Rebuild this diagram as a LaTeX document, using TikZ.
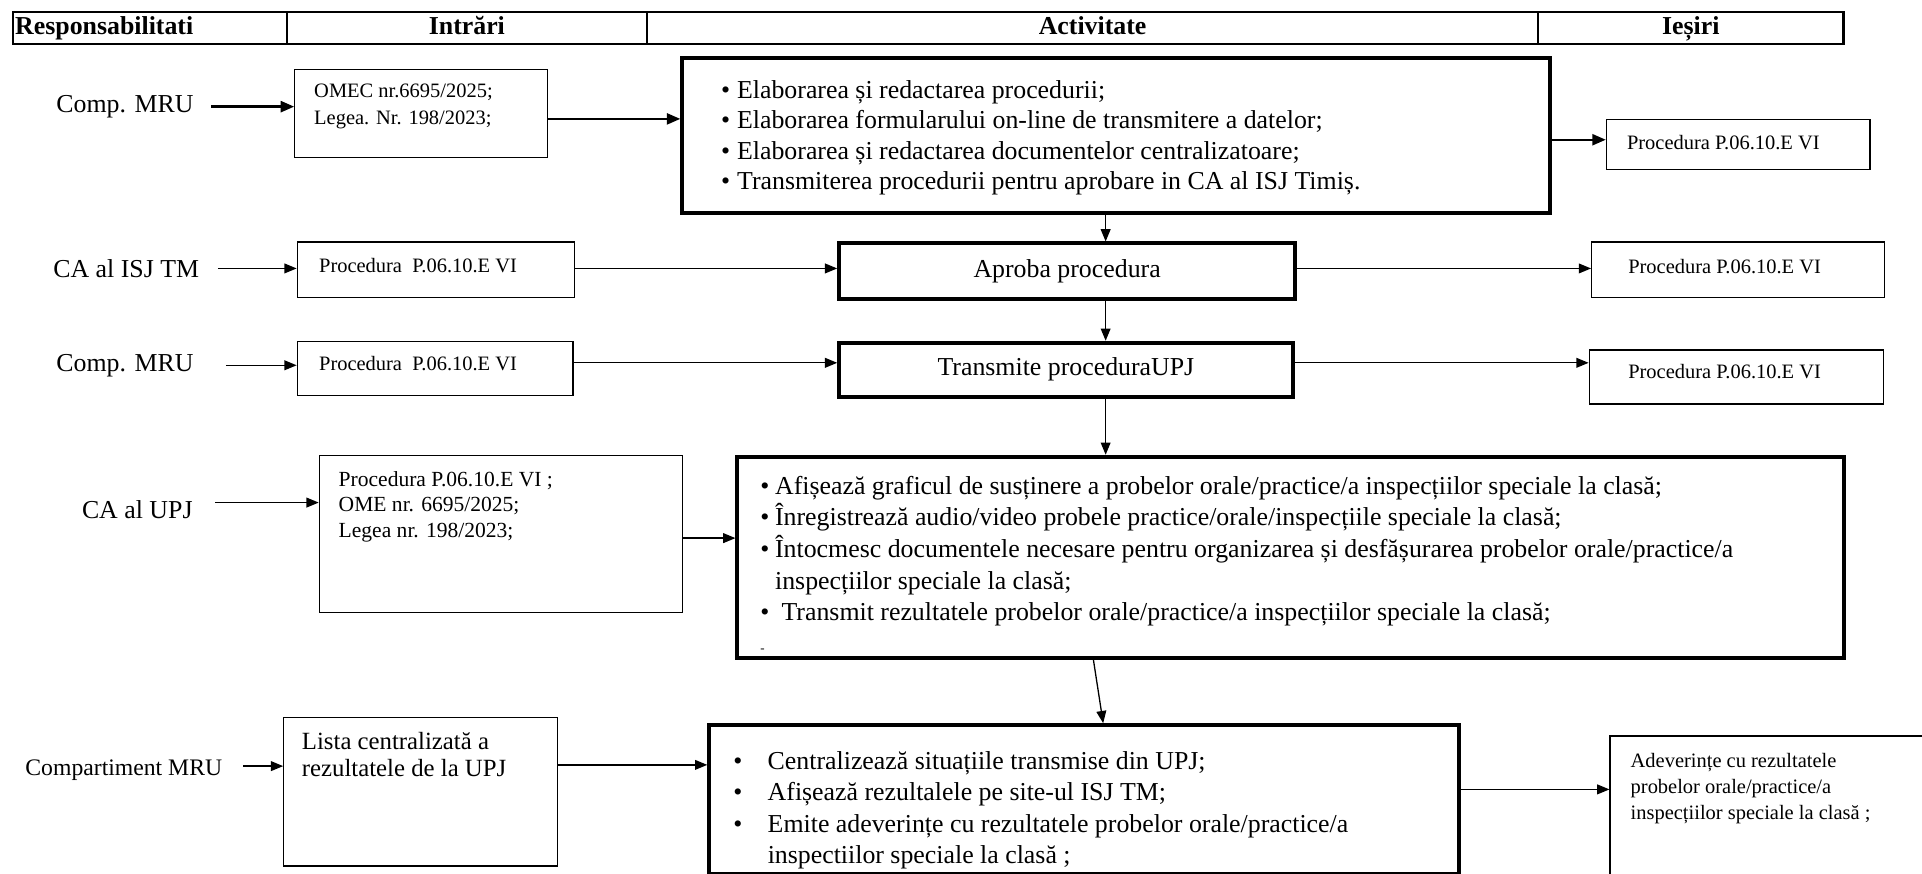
\documentclass[tikz,border=0pt]{standalone}
\usepackage{fontspec}
\setmainfont{Liberation Serif}
\usetikzlibrary{arrows.meta}
\begin{document}
\begin{tikzpicture}[x=0.02cm,y=-0.02cm,
  sz/.style 2 args={minimum width=#1*0.02cm, minimum height=#2*0.02cm},
  bx/.style={draw, line width=0.6pt, inner sep=0pt, anchor=north west},
  tbx/.style={draw, line width=1.8pt, inner sep=0pt, anchor=north west},
  hd/.style={draw, line width=1pt, inner sep=0pt, anchor=north west, text height=9pt, text depth=3pt, font=\bfseries\fontsize{12}{14}\selectfont},
  arr/.style={-{Triangle[length=0.2cm,width=0.16cm]}, line width=0.6pt},
  arrb/.style={-{Triangle[length=0.22cm,width=0.18cm]}, line width=1.1pt},
  lbl/.style={inner sep=0pt, font=\fontsize{12}{14}\selectfont},
  txt/.style={anchor=north west, inner sep=0pt, align=left},
  big/.style={font=\fontsize{12}{14.2}\selectfont},
  small/.style={font=\fontsize{9.5}{12.2}\selectfont}
]
\useasboundingbox (0,0) rectangle (1568,713);

% header
\node[hd, sz={223}{26}, text width=4.4cm, align=left, inner xsep=0.03cm] (h1) at (10,9) {Responsabilitati};
\node[hd, sz={294}{26}] (h2) at (233,9) {Intrări};
\node[hd, sz={727}{26}] (h3) at (527,9) {Activitate};
\node[hd, sz={249}{26}] (h4) at (1254,9) {Ieșiri};

% row 1
\node[lbl] (L1) at (102,87) {Comp. MRU};
\node[bx, sz={206}{72}] (in1) at (240,56) {};
\node[txt, font=\fontsize{9.5}{12.5}\selectfont] (t1) at (256,68) {OMEC nr.6695/2025;\\Legea. Nr. 198/2023;};
\node[tbx, sz={708}{126}] (act1) at (555,46) {};
\node[txt, big] (ta1) at (588,65) {\makebox[0.26cm][l]{•}Elaborarea și redactarea procedurii;\\
\makebox[0.26cm][l]{•}Elaborarea formularului on-line de transmitere a datelor;\\
\makebox[0.26cm][l]{•}Elaborarea și redactarea documentelor centralizatoare;\\
\makebox[0.26cm][l]{•}Transmiterea procedurii pentru aprobare in CA al ISJ Timiș.};
\node[bx, sz={215}{41}] (out1) at (1310,97) {};
\node[txt, small] (to1) at (1327,110) {Procedura P.06.10.E VI};
\draw[arrb] ([xshift=0.28cm]L1.east) -- (L1.east -| in1.west);
\draw[arrb] (in1.east |- 0,97) -- (act1.west |- 0,97);
\draw[arrb] (act1.east |- 0,114) -- (out1.west |- 0,114);

% row 2
\node[lbl] (L2) at (103,219) {CA al ISJ TM};
\node[bx, sz={226}{45}] (in2) at (242,197) {};
\node[txt, small] (t2) at (260,210) {Procedura\ \ P.06.10.E VI};
\node[tbx, sz={372}{45}, big] (apr) at (683,197) {Aproba procedura};
\node[bx, sz={239}{45}] (out2) at (1298,197) {};
\node[txt, small] (to2) at (1328,211) {Procedura P.06.10.E VI};
\draw[arr] (act1.south -| 902,0) -- (apr.north -| 902,0);
\draw[arr] ([xshift=0.3cm]L2.east) -- (L2.east -| in2.west);
\draw[arr] (in2.east |- 0,219) -- (apr.west |- 0,219);
\draw[arr] (apr.east |- 0,219) -- (out2.west |- 0,219);

% row 3
\node[lbl] (L3) at (102,298) {Comp. MRU};
\node[bx, sz={225}{44}] (in3) at (242,278) {};
\node[txt, small] (t3) at (260,290) {Procedura\ \ P.06.10.E VI};
\node[tbx, sz={370}{44}, big] (trn) at (683,278) {Transmite proceduraUPJ};
\node[bx, sz={240}{44}] (out3) at (1296,285) {};
\node[txt, small] (to3) at (1328,297) {Procedura P.06.10.E VI};
\draw[arr] (apr.south -| 902,0) -- (trn.north -| 902,0);
\draw[arr] ([xshift=0.52cm]L3.east) -- (L3.east -| in3.west);
\draw[arr] (in3.east |- 0,296) -- (trn.west |- 0,296);
\draw[arr] (trn.east |- 0,296) -- (out3.west |- 0,296);

% row 4
\node[lbl] (L4) at (112,416) {CA al UPJ};
\node[bx, sz={296}{128}] (in4) at (260,371) {};
\node[txt, font=\fontsize{10}{12}\selectfont] (t4) at (276,384) {Procedura P.06.10.E VI ;\\OME nr. 6695/2025;\\Legea nr. 198/2023;};
\node[tbx, sz={903}{164}] (act4) at (600,371) {};
\node[txt, font=\fontsize{12}{14.7}\selectfont] (ta4) at (620,388) {\makebox[0.24cm][l]{•}Afișează graficul de susținere a probelor orale/practice/a inspecțiilor speciale la clasă;\\
\makebox[0.24cm][l]{•}Înregistrează audio/video probele practice/orale/inspecțiile speciale la clasă;\\
\makebox[0.24cm][l]{•}Întocmesc documentele necesare pentru organizarea și desfășurarea probelor orale/practice/a\\
\hspace*{0.24cm}inspecțiilor speciale la clasă;\\
\makebox[0.24cm][l]{•}\ Transmit rezultatele probelor orale/practice/a inspecțiilor speciale la clasă;\\
{\fontsize{6}{7}\selectfont -}};
\draw[arr] (trn.south -| 902,0) -- (act4.north -| 902,0);
\draw[arr] ([xshift=0.36cm]L4.east |- 0,410) -- (in4.west |- 0,410);
\draw[arr] (in4.east |- 0,439) -- (act4.west |- 0,439);

% row 5
\node[lbl, font=\fontsize{11}{13}\selectfont] (L5) at (101,628) {Compartiment MRU};
\node[bx, sz={223}{121}] (in5) at (231,585) {};
\node[txt, font=\fontsize{11.5}{12.8}\selectfont] (t5) at (246,597) {Lista centralizată a\\rezultatele de la UPJ};
\node[tbx, sz={612}{121}] (act5) at (577,590) {};
\begin{scope}
\clip (act5.north west) rectangle ([yshift=0.1cm]act5.south east);
\node[txt, font=\fontsize{12}{14.45}\selectfont] (ta5) at (598,613) {\makebox[0.56cm][l]{•}Centralizează situațiile transmise din UPJ;\\
\makebox[0.56cm][l]{•}Afișează rezultalele pe site-ul ISJ TM;\\
\makebox[0.56cm][l]{•}Emite adeverințe cu rezultatele probelor orale/practice/a\\
\hspace*{0.56cm}inspectiilor speciale la clasă ;};
\end{scope}
\node[bx, sz={320}{180}] (out5) at (1313,600) {};
\node[txt, small] (to5) at (1330,614) {Adeverințe cu rezultatele\\probelor orale/practice/a\\inspecțiilor speciale la clasă ;};
\draw[arr] (act4.south -| 892,0) -- (act5.north -| 900,0);
\draw[arr] ([xshift=0.34cm]L5.east |- 0,625) -- (in5.west |- 0,625);
\draw[arr] (in5.east |- 0,624) -- (act5.west |- 0,624);
\draw[arr] (act5.east |- 0,644) -- (out5.west |- 0,644);
\end{tikzpicture}
\end{document}
